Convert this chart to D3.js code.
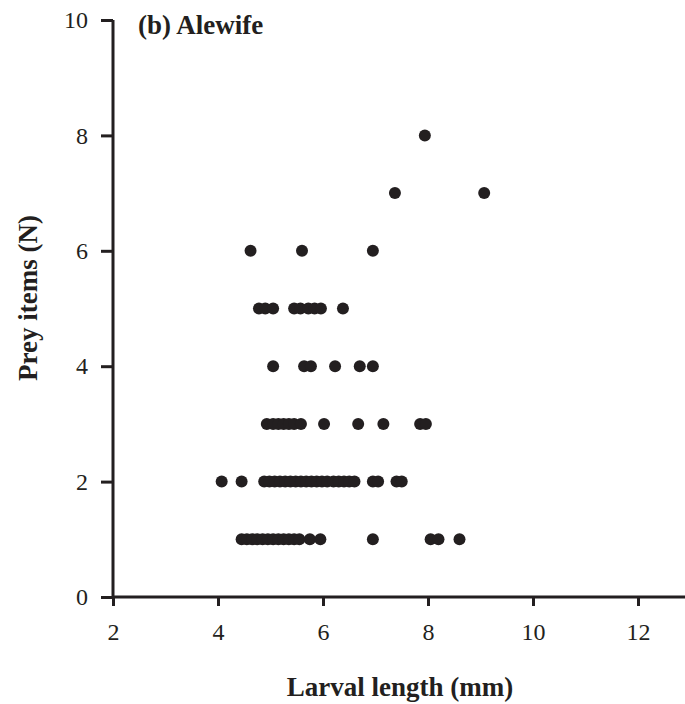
<!DOCTYPE html>
<html>
<head>
<meta charset="utf-8">
<script src="https://cdn.jsdelivr.net/npm/d3@7"></script>
<style>
  html, body { margin: 0; padding: 0; background: #fff; }
  svg text { font-family: "Liberation Serif", "Times New Roman", serif; fill: #231f20; }
</style>
</head>
<body>
<svg id="chart" width="685" height="704"></svg>
<script>
// Larval length (mm) of each alewife, grouped by number of prey items
const preyCounts = [1, 2, 3, 4, 5, 6, 7, 8];
const lengthsByPrey = [
  [4.45, 4.55, 4.65, 4.75, 4.85, 4.95, 5.05, 5.15, 5.25, 5.35, 5.45, 5.55, 5.75, 5.95, 6.95, 8.05, 8.2, 8.6],
  [4.07, 4.45, 4.88, 4.98, 5.08, 5.18, 5.28, 5.38, 5.48, 5.58, 5.68, 5.78, 5.88, 5.98, 6.08, 6.2, 6.3, 6.4, 6.5, 6.6, 6.95, 7.05, 7.4, 7.5],
  [4.93, 5.05, 5.15, 5.25, 5.35, 5.45, 5.58, 6.02, 6.67, 7.15, 7.85, 7.96],
  [5.05, 5.64, 5.77, 6.23, 6.7, 6.95],
  [4.78, 4.9, 5.05, 5.45, 5.57, 5.72, 5.84, 5.96, 6.38],
  [4.62, 5.6, 6.95],
  [7.37, 9.07],
  [7.94]
];
const xTicks = [2, 4, 6, 8, 10, 12];
const yTicks = [0, 2, 4, 6, 8, 10];

const points = [];
preyCounts.forEach((n, i) => lengthsByPrey[i].forEach(len => points.push({ len, n })));

const svg = d3.select("#chart");
const ink = "#231f20";

const x = d3.scaleLinear().domain([2, 13]).range([113, 690.5]);
const y = d3.scaleLinear().domain([0, 10]).range([597, 20]);

// x axis
const gx = svg.append("g").attr("transform", `translate(0,${y(0)})`)
  .call(d3.axisBottom(x).tickValues(xTicks).tickSize(9).tickPadding(17).tickFormat(d3.format("d")));
// y axis
const gy = svg.append("g").attr("transform", `translate(${x(2)},0)`)
  .call(d3.axisLeft(y).tickValues(yTicks).tickSize(12).tickPadding(13).tickFormat(d3.format("d")));

[gx, gy].forEach(g => {
  g.select(".domain").attr("stroke", ink).attr("stroke-width", 3);
  g.selectAll(".tick line").attr("stroke", ink).attr("stroke-width", 3);
  g.selectAll(".tick text").attr("fill", ink)
    .style("font-size", "24px")
    .style("font-family", "'Liberation Serif', serif");
});
// axis lines without end caps
gx.select(".domain").attr("d", `M${x(2)},0H${x(13)}`);
gy.select(".domain").attr("d", `M0,${y(10)}V${y(0)}`);

// points
svg.append("g").selectAll("circle").data(points).join("circle")
  .attr("cx", d => x(d.len))
  .attr("cy", d => y(d.n))
  .attr("r", 6)
  .attr("fill", ink);

// panel title
svg.append("text").attr("x", 138).attr("y", 34)
  .style("font-size", "27px").attr("font-weight", "bold").text("(b) Alewife");

// axis titles
svg.append("text").attr("x", 400).attr("y", 696).attr("text-anchor", "middle")
  .style("font-size", "27px").attr("font-weight", "bold").text("Larval length (mm)");
svg.append("text").attr("transform", `translate(37,298) rotate(-90)`)
  .attr("text-anchor", "middle")
  .style("font-size", "27px").attr("font-weight", "bold").text("Prey items (N)");
</script>
</body>
</html>
